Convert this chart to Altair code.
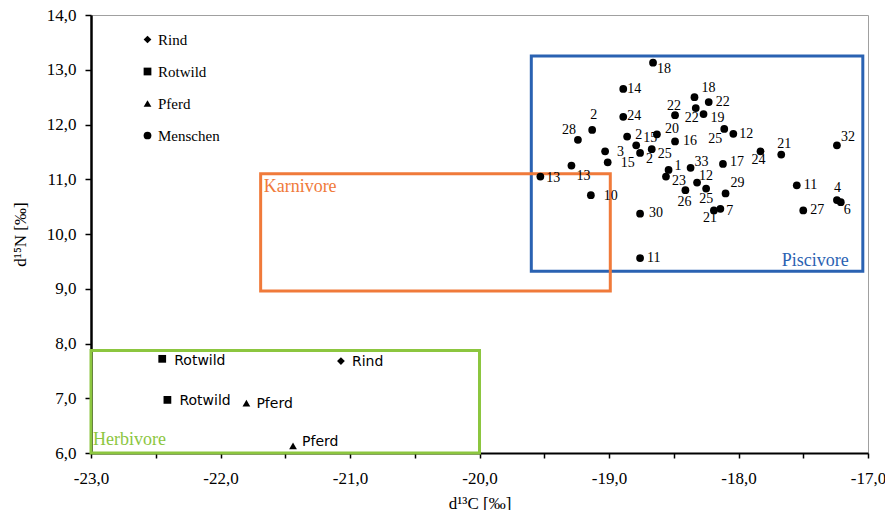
import altair as alt
import pandas as pd

# ---------------- data ----------------
# human samples (Menschen): d13C, d15N, sample label
m_x = [-18.66, -18.89, -18.34, -18.23, -18.33, -18.49, -18.27, -18.11, -18.04, -18.63,
       -18.49, -18.89, -19.13, -19.24, -18.86, -18.79, -18.76, -18.67, -19.03, -19.01,
       -19.29, -19.53, -19.14, -18.54, -18.56, -18.37, -18.32, -18.41, -18.25, -18.12,
       -18.10, -18.19, -18.14, -18.76, -18.76, -17.83, -17.67, -17.24, -17.55, -17.24,
       -17.21, -17.50]
m_y = [13.13, 12.65, 12.50, 12.41, 12.30, 12.17, 12.19, 11.92, 11.83, 11.82,
       11.69, 12.14, 11.90, 11.72, 11.78, 11.62, 11.48, 11.55, 11.51, 11.31,
       11.25, 11.05, 10.71, 11.17, 11.05, 11.21, 10.94, 10.80, 10.83, 11.28,
       10.74, 10.43, 10.46, 10.37, 9.56, 11.51, 11.45, 11.62, 10.89, 10.62,
       10.58, 10.43]
m_lab = ["18", "14", "18", "22", "22", "22", "19", "25", "12", "20",
         "16", "24", "2", "28", "2", "15", "2", "25", "3", "15",
         "13", "13", "10", "1", "23", "33", "12", "26", "25", "17",
         "29", "21", "7", "30", "11", "24", "21", "32", "11", "4",
         "6", "27"]

# animal samples
h_species = ["Rotwild", "Rind", "Rotwild", "Pferd", "Pferd"]
h_x = [-22.45, -21.07, -22.41, -21.80, -21.44]
h_y = [7.72, 7.68, 6.97, 6.91, 6.13]

species_order = ["Rind", "Rotwild", "Pferd", "Menschen"]

# diet zones
box_names = ["Piscivore", "Karnivore", "Herbivore"]
box_x1 = [-19.60, -21.69, -23.0]
box_x2 = [-17.04, -18.99, -20.0]
box_y1 = [9.32, 8.96, 6.0]
box_y2 = [13.25, 11.10, 7.87]

x_ticks = [-23.0, -22.5, -22.0, -21.5, -21.0, -20.5, -20.0, -19.5, -19.0, -18.5, -18.0, -17.5, -17.0]
y_ticks = [6, 7, 8, 9, 10, 11, 12, 13, 14]

# ---------------- layout / style ----------------
W, H = 777, 438
XD, YD = [-23, -17], [6, 14]
PXX = W / (XD[1] - XD[0])
PXY = H / (YD[1] - YD[0])

# label offsets in pixels (left edge / vertical centre relative to marker)
m_dx = [4, 4, 7, 7, -11, -8, 7, -16, 6, 8, 8, 4, -2, -16, 8, 7, 6, 6, 12, 13,
        5, 6, 13, 6, 6, 4, 2, -8, -7, 7, 5, -11, 6, 9, 7, -9, -4, 4, 7, -3, 3, 7]
m_dy = [6, 0, -9, 0, 10, -9, 4, 10, 0, -5, 0, -1, -15, -10, -2, -7, 6, 5, 1, 1,
        10, 1, 1, -4, 4, -6, -7, 12, 10, -2, -10, 8, 2, -1, 0, 9, -11, -8, 0, -12, 8, 0]
h_dx = [12, 11, 12, 10, 9]
h_dy = [2, 1, 1, 1, -4]

box_colors = ["#2A62B2", "#F07A3A", "#8CC63F"]
SERIF = "Liberation Serif"

pts = pd.DataFrame({
    "x": h_x + m_x,
    "y": h_y + m_y,
    "species": h_species + ["Menschen"] * len(m_x),
})
mlab = pd.DataFrame({
    "x": [a + d / PXX for a, d in zip(m_x, m_dx)],
    "y": [b - d / PXY for b, d in zip(m_y, m_dy)],
    "t": m_lab,
})
hlab = pd.DataFrame({
    "x": [a + d / PXX for a, d in zip(h_x, h_dx)],
    "y": [b - d / PXY for b, d in zip(h_y, h_dy)],
    "t": h_species,
})
boxes = pd.DataFrame({"name": box_names, "x1": box_x1, "x2": box_x2,
                      "y1": box_y1, "y2": box_y2})

xs = alt.Scale(domain=XD, nice=False, zero=False)
ys = alt.Scale(domain=YD, nice=False, zero=False)

dec = "replace(replace(format(datum.value, '.1f'), '.', ','), '\u2212', '-')"

x_axis = alt.Axis(
    orient="bottom",
    values=x_ticks, labelExpr=f"datum.value % 1 == 0 ? {dec} : ''",
    title="d¹³C [‰]", grid=False, tickSize=5, tickColor="black", tickWidth=1.5,
    domainColor="black", domainWidth=2, labelFont=SERIF, labelFontSize=17,
    labelColor="black", labelPadding=12, titleFont=SERIF, titleFontSize=17,
    titleFontWeight="normal", titleColor="black", titlePadding=9, labelFlush=False,
)
y_axis = alt.Axis(
    orient="left",
    values=y_ticks, labelExpr=dec, title="d¹⁵N [‰]", grid=False, tickSize=6,
    tickColor="black", tickWidth=1.5, domainColor="black", domainWidth=2.5,
    labelFont=SERIF, labelFontSize=17, labelColor="black", labelPadding=9,
    titleFont=SERIF, titleFontSize=17, titleFontWeight="normal", titleColor="black",
    titlePadding=17, labelFlush=False,
)

legend = alt.Legend(orient="none", legendX=49, legendY=17, title=None,
                    labelFont=SERIF, labelFontSize=15, labelColor="black",
                    rowPadding=16, labelOffset=3, symbolFillColor="black",
                    symbolStrokeColor="black")


def X(f):
    return alt.X(f"{f}:Q", scale=xs, axis=x_axis)


def Y(f):
    return alt.Y(f"{f}:Q", scale=ys, axis=y_axis)


rects = alt.Chart(boxes).mark_rect(fillOpacity=0, strokeWidth=3).encode(
    x=X("x1"), x2="x2", y=Y("y1"), y2="y2",
    stroke=alt.Stroke("name:N", scale=alt.Scale(domain=box_names, range=box_colors), legend=None),
)

points = alt.Chart(pts).mark_point(filled=True, color="black", opacity=1).encode(
    x=X("x"), y=Y("y"),
    shape=alt.Shape("species:N", scale=alt.Scale(
        domain=species_order, range=["diamond", "square", "triangle-up", "circle"]), legend=legend),
    size=alt.Size("species:N", scale=alt.Scale(domain=species_order, range=[60, 60, 64, 100]),
                  legend=legend),
)

mtext = alt.Chart(mlab).mark_text(align="left", baseline="middle", font=SERIF,
                                  fontSize=14, color="black").encode(
    x=X("x"), y=Y("y"), text="t:N")

htext = alt.Chart(hlab).mark_text(align="left", baseline="middle", font="DejaVu Sans",
                                  fontSize=14, color="black").encode(
    x=X("x"), y=Y("y"), text="t:N")


def box_label(name, xf, yf, align, dx, dy, color):
    d = boxes[boxes.name == name]
    return alt.Chart(d).mark_text(align=align, baseline="middle", font=SERIF, fontSize=18,
                                  color=color, dx=dx, dy=dy).encode(
        x=X(xf), y=Y(yf), text="name:N")


lab_p = box_label("Piscivore", "x2", "y1", "right", -14, -10, box_colors[0])
lab_k = box_label("Karnivore", "x1", "y2", "left", 3, 13, box_colors[1])
lab_h = box_label("Herbivore", "x1", "y1", "left", 2, -13, box_colors[2])

chart = alt.layer(rects, points, mtext, htext, lab_p, lab_k, lab_h).properties(
    width=W, height=H,
    autosize=alt.AutoSizeParams(type="none"),
    padding={"left": 83, "top": 7, "right": 17, "bottom": 57},
    background="white",
).configure_view(stroke="#A0A0A0", strokeWidth=1)

chart.save("out.html", embed_options={"renderer": "svg", "actions": False})
